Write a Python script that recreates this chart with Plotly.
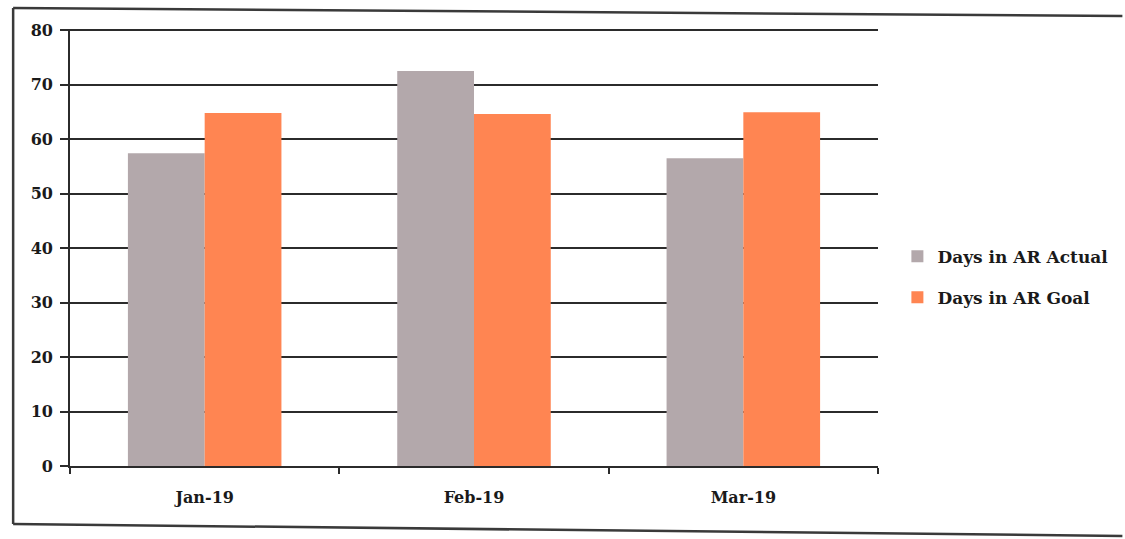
import plotly.graph_objects as go

months = ["Jan-19", "Feb-19", "Mar-19"]
actual = [57.4, 72.5, 56.5]
goal = [64.8, 64.6, 64.9]
y_ticks = [0, 10, 20, 30, 40, 50, 60, 70, 80]

FONT = "DejaVu Serif"
fig = go.Figure()
fig.add_trace(go.Bar(name="Days in AR Actual", x=months, y=actual, legendgroup="a",
                     marker=dict(color="#B3A8AB", line=dict(width=0))))
fig.add_trace(go.Bar(name="Days in AR Goal", x=months, y=goal, legendgroup="g",
                     marker=dict(color="#FF8552", line=dict(width=0))))

L, R, T, B = 70, 245, 29, 73
fig.update_layout(
    width=1125, height=539,
    margin=dict(l=L, r=R, t=T, b=B),
    paper_bgcolor="white", plot_bgcolor="white",
    barmode="group", bargap=0.43, bargroupgap=0,
    font=dict(family=FONT, size=16, color="#1a1a1a"),
    legend=dict(x=1.024, y=0.432, xanchor="left", yanchor="middle",
                font=dict(family=FONT, size=17, color="#1a1a1a", weight=600),
                itemwidth=30, tracegroupgap=16),
    showlegend=True,
)
fig.update_yaxes(range=[0, 80.2], tickvals=y_ticks, showgrid=True,
                 gridcolor="#2b2b2b", gridwidth=1.6,
                 showline=True, linecolor="#2b2b2b", linewidth=1.6,
                 ticks="outside", ticklen=8, tickcolor="#2b2b2b", tickwidth=1.6,
                 ticklabelstandoff=4,
                 tickfont=dict(family=FONT, size=16, color="#1a1a1a", weight=600),
                 zeroline=False)
fig.update_xaxes(showline=True, linecolor="#2b2b2b", linewidth=1.6,
                 ticks="outside", tickson="boundaries", ticklen=6,
                 tickcolor="#2b2b2b", tickwidth=1.6, ticklabelstandoff=16,
                 tickfont=dict(family=FONT, size=16, color="#1a1a1a", weight=600))

# outer frame (left, top, bottom edges)
pw, ph = 1125 - L - R, 539 - T - B
def px(x): return (x - L) / pw
def py(y): return (539 - B - y) / ph
frame = dict(type="line", xref="paper", yref="paper",
             line=dict(color="#3a3a3a", width=2.5))
fig.add_shape(**frame, x0=px(13), y0=py(8), x1=px(13), y1=py(524))
fig.add_shape(**frame, x0=px(13), y0=py(8), x1=px(1125), y1=py(16))
fig.add_shape(**frame, x0=px(13), y0=py(524), x1=px(1125), y1=py(536))

fig.write_html("out.html")
